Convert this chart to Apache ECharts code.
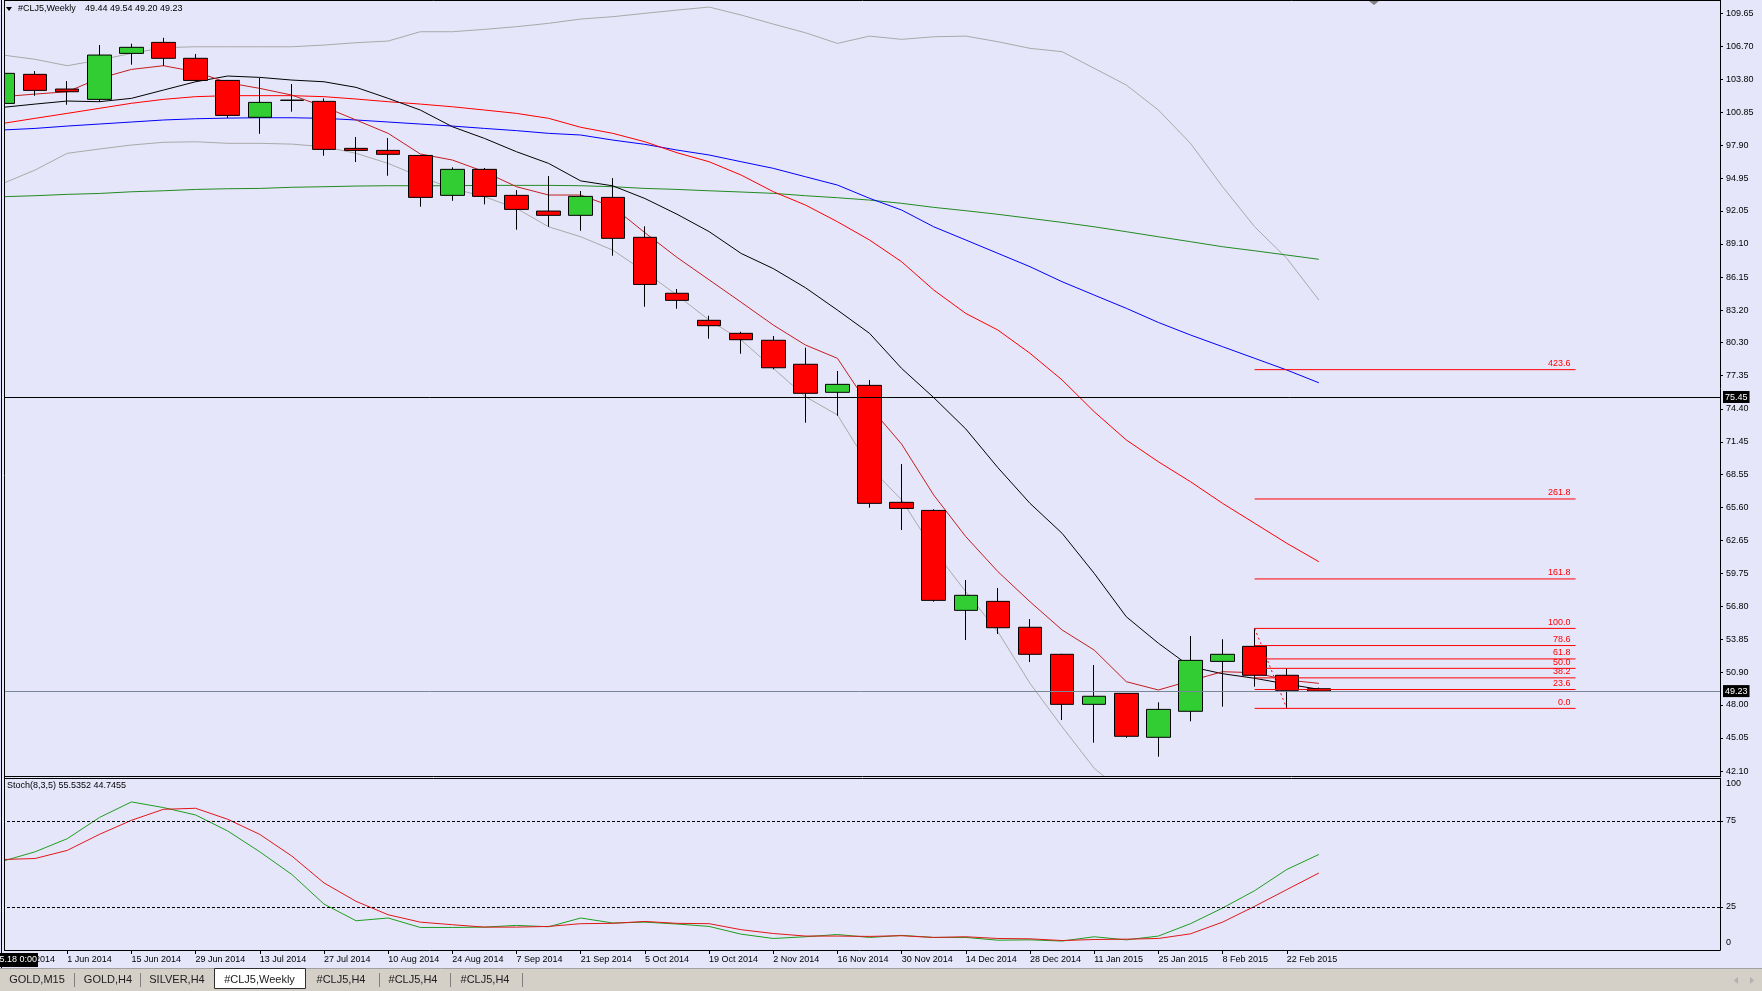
<!DOCTYPE html>
<html>
<head>
<meta charset="utf-8">
<title>#CLJ5,Weekly</title>
<script src="https://cdn.jsdelivr.net/npm/echarts@6/dist/echarts.min.js"></script>
<style>
html, body { margin: 0; padding: 0; background: #E6E6FA; }
#main { width: 1762px; height: 991px; }
</style>
</head>
<body>
<div id="main"></div>
<script>
// weekly bars, oldest first
var weeks = ['18 May 2014','25 May 2014','1 Jun 2014','8 Jun 2014','15 Jun 2014','22 Jun 2014','29 Jun 2014',
  '6 Jul 2014','13 Jul 2014','20 Jul 2014','27 Jul 2014','3 Aug 2014','10 Aug 2014','17 Aug 2014','24 Aug 2014',
  '31 Aug 2014','7 Sep 2014','14 Sep 2014','21 Sep 2014','28 Sep 2014','5 Oct 2014','12 Oct 2014','19 Oct 2014',
  '26 Oct 2014','2 Nov 2014','9 Nov 2014','16 Nov 2014','23 Nov 2014','30 Nov 2014','7 Dec 2014','14 Dec 2014',
  '21 Dec 2014','28 Dec 2014','4 Jan 2015','11 Jan 2015','18 Jan 2015','25 Jan 2015','1 Feb 2015','8 Feb 2015',
  '15 Feb 2015','22 Feb 2015','1 Mar 2015'];
var futureSlots = 12;   // empty shift area right of the last bar

// open, high, low, close
var ohlc = [
  [101.63,104.55,101.45,104.31],[104.22,104.51,102.31,102.79],[102.91,103.62,101.51,102.67],
  [101.99,106.83,101.78,105.94],[106.09,106.95,105.08,106.63],[107.07,107.48,104.96,105.65],
  [105.65,106.03,103.60,103.68],[103.68,103.72,100.32,100.56],[100.39,103.92,98.92,101.72],
  [101.92,103.36,100.89,101.90],[101.81,102.08,96.96,97.53],[97.62,98.63,96.40,97.44],
  [97.44,98.54,95.18,97.09],[96.99,97.02,92.42,93.25],[93.43,95.93,92.95,95.75],
  [95.75,95.87,92.63,93.34],[93.43,93.90,90.37,92.18],[92.03,95.15,90.63,91.65],
  [91.65,93.82,90.27,93.34],[93.25,94.97,88.05,89.60],[89.69,90.67,83.50,85.49],
  [84.70,85.08,83.32,84.07],[82.29,82.70,80.65,81.81],[81.13,81.27,79.31,80.56],
  [80.51,80.89,77.92,78.06],[78.37,79.85,73.16,75.78],[75.87,77.77,73.78,76.58],
  [76.49,76.97,65.58,65.97],[66.06,69.47,63.59,65.52],[65.34,65.44,57.20,57.32],
  [56.43,59.13,53.78,57.77],[57.23,58.42,54.32,54.88],[54.92,55.65,51.82,52.51],
  [52.51,52.55,46.65,48.05],[48.05,51.55,44.63,48.77],[49.03,49.05,45.07,45.20],
  [45.11,48.23,43.38,47.60],[47.43,54.14,46.54,51.97],[51.88,53.85,47.84,52.51],
  [53.22,54.82,49.62,50.64],[50.64,51.26,47.69,49.30],[49.44,49.54,49.20,49.23]
];

// indicator lines
var bbUpper = [105.94,105.56,104.99,105.50,106.09,106.60,106.68,106.68,106.68,106.68,106.83,107.04,107.19,108.02,
  108.02,108.23,108.47,108.77,109.15,109.36,109.66,109.95,110.22,109.51,108.70,107.93,106.98,107.63,107.34,107.57,
  107.63,107.13,106.54,106.24,104.76,103.27,101.04,98.07,94.20,90.63,87.82,84.10];
var bbLower = [94.50,95.69,97.18,97.56,97.92,98.16,98.21,98.07,98.07,98.00,97.77,97.18,96.28,95.09,94.05,93.31,
  92.27,90.63,89.74,88.55,86.62,84.54,82.31,80.53,78.01,75.48,73.85,69.24,66.27,61.81,58.09,54.52,49.92,46.05,
  42.35,40.00,38.30,37.70,37.70,37.80,37.00,37.40];
var maFast = [102.23,102.46,102.67,103.86,104.66,104.99,104.45,103.47,102.97,102.37,101.33,100.15,98.96,97.12,
  96.58,95.54,94.20,93.46,93.46,92.40,90.10,87.90,85.90,83.90,81.87,80.09,78.90,74.60,71.25,66.71,63.00,59.88,
  57.20,54.68,52.89,50.07,49.33,50.15,50.96,50.87,50.22,49.92];
var maBlack = [101.28,101.57,101.84,101.78,102.08,102.82,103.56,104.07,103.95,103.71,103.56,103.06,102.08,101.04,
  99.55,98.51,97.32,96.28,94.72,94.28,93.15,91.75,90.20,88.25,86.90,85.20,83.20,81.13,78.00,75.40,72.60,69.15,
  65.97,63.30,59.73,55.86,53.50,51.40,50.78,50.37,49.86,49.39];
var maRed = [99.85,100.30,100.74,101.19,101.64,101.99,102.23,102.32,102.32,102.32,102.23,102.02,101.78,101.57,
  101.33,101.04,100.74,100.30,99.50,98.96,98.21,97.23,96.43,95.24,93.76,92.57,91.08,89.45,87.51,84.99,82.90,81.42,
  79.35,76.97,74.14,71.62,69.68,67.90,65.97,64.19,62.41,60.77];
var maBlue = [99.26,99.40,99.61,99.79,99.97,100.15,100.26,100.32,100.35,100.35,100.30,100.15,99.97,99.79,99.61,
  99.40,99.20,98.96,98.81,98.36,97.98,97.47,97.03,96.43,95.84,95.09,94.35,93.17,92.12,90.63,89.45,88.26,87.07,
  85.73,84.54,83.36,82.10,80.98,79.94,78.90,77.86,76.72];
var maGreen = [93.31,93.40,93.52,93.60,93.75,93.84,93.96,94.02,94.05,94.15,94.20,94.26,94.29,94.29,94.29,94.32,
  94.32,94.32,94.29,94.20,94.05,93.96,93.84,93.73,93.61,93.40,93.22,93.01,92.72,92.36,92.06,91.74,91.38,91.02,
  90.63,90.19,89.74,89.30,88.85,88.49,88.11,87.73];

// Stoch(8,3,5)
var stochMain = [51.7,57.1,64.7,77.0,86.1,82.8,78.5,69.2,57.1,43.9,26.7,17.0,18.6,13.1,13.1,13.3,14.3,13.5,18.6,
  15.7,16.2,15.1,13.7,9.2,6.7,7.7,9.0,7.3,8.5,7.3,7.3,5.7,5.9,5.2,7.7,5.9,8.1,15.3,24.4,34.5,46.8,55.54];
var stochSignal = [52.6,53.2,57.9,67.2,75.4,81.8,82.4,76.0,67.2,54.6,39.0,28.3,20.5,16.2,14.7,13.3,13.3,13.7,15.3,
  15.5,16.6,15.5,15.3,11.8,9.6,8.1,8.1,7.9,8.3,7.3,7.7,6.7,6.5,5.5,6.1,6.3,6.7,9.4,16.2,25.4,35.1,44.75];

// axis tick labels
var priceTicks = [42.10,45.05,48.00,50.90,53.85,56.80,59.75,62.65,65.60,68.55,71.45,74.40,77.35,80.30,83.20,
  86.15,89.10,92.05,94.95,97.90,100.85,103.80,106.70,109.65];
var stochTicks = [0,25,75,100];
var stochLevels = [25,75];

// Fibonacci object drawn from the 15 Feb high to the 22 Feb low
var fibNames = ['0.0','23.6','38.2','50.0','61.8','78.6','100.0','161.8','261.8','423.6'];
var fibLevels = [47.69,49.37,50.41,51.26,52.10,53.29,54.82,59.23,66.36,77.89];
var fibFrom = 39, fibTo = 49;
var fibHigh = 54.82, fibLow = 47.69;

var hLine = 75.45;
var bidPrice = 49.23;

var FONT = '"Liberation Sans", Arial, sans-serif';
var cats = weeks.concat(new Array(futureSlots).fill(''));
var lastBar = weeks.length - 1;

function showEveryOther(index) { return index % 2 === 0 && index <= lastBar; }

function priceLine(values, color) {
  return {
    type: 'line', xAxisIndex: 0, yAxisIndex: 0, data: values,
    symbol: 'none', showSymbol: false, silent: true, z: 2,
    lineStyle: { color: color, width: 1 }
  };
}

var series = [
  priceLine(bbUpper, '#A9A9A9'),
  priceLine(bbLower, '#A9A9A9'),
  priceLine(maGreen, '#228B22'),
  priceLine(maBlue, '#0000FF'),
  priceLine(maRed, '#FF0000'),
  priceLine(maBlack, '#000000'),
  priceLine(maFast, '#C41E1E'),
  {
    type: 'candlestick', xAxisIndex: 0, yAxisIndex: 0, z: 4, barWidth: 24, silent: true,
    data: ohlc.map(function (d) { return [d[0], d[3], d[2], d[1]]; }),
    itemStyle: { color: '#32CD32', color0: '#FF0000', borderColor: '#000', borderColor0: '#000', borderWidth: 1 },
    markLine: {
      silent: true, symbol: ['none', 'none'], animation: false,
      data: [
        { yAxis: hLine, lineStyle: { color: '#000', width: 1, type: 'solid' },
          label: { show: true, position: 'end', distance: 3, formatter: hLine.toFixed(2), color: '#fff',
                   backgroundColor: '#000', padding: [2, 2, 1, 2], fontSize: 9, fontFamily: FONT } },
        { yAxis: bidPrice, lineStyle: { color: '#778899', width: 1, type: 'solid' },
          label: { show: true, position: 'end', distance: 3, formatter: bidPrice.toFixed(2), color: '#fff',
                   backgroundColor: '#000', padding: [2, 2, 1, 2], fontSize: 9, fontFamily: FONT } }
      ]
    }
  },
  {
    type: 'line', xAxisIndex: 0, yAxisIndex: 0, z: 5, symbol: 'none', silent: true,
    data: [[fibFrom, fibHigh], [fibFrom + 1, fibLow]],
    lineStyle: { color: '#FF0000', width: 1, type: [2, 3] }
  }
];

// fib levels: the line plus a caption above its right end
fibLevels.forEach(function (lv, k) {
  series.push({
    type: 'line', xAxisIndex: 0, yAxisIndex: 0, z: 5, silent: true,
    symbol: 'circle', symbolSize: 1, showSymbol: true,
    itemStyle: { color: 'rgba(0,0,0,0)' },
    lineStyle: { color: '#FF0000', width: 1 },
    label: { show: false },
    data: [
      { value: [fibFrom, lv] },
      { value: [fibTo, lv], label: {
          show: true, formatter: fibNames[k], position: 'top', align: 'right', distance: 1, offset: [-5, 0],
          color: '#FF0000', fontSize: 9, fontFamily: FONT } }
    ]
  });
});

series.push({
  type: 'line', xAxisIndex: 1, yAxisIndex: 1, data: stochMain, symbol: 'none', silent: true, z: 2,
  lineStyle: { color: '#1E9E1E', width: 1 },
  markLine: {
    silent: true, symbol: ['none', 'none'], animation: false, label: { show: false },
    lineStyle: { color: '#000', width: 1, type: [3, 2] },
    data: stochLevels.map(function (v) { return { yAxis: v }; })
  }
});
series.push({
  type: 'line', xAxisIndex: 1, yAxisIndex: 1, data: stochSignal, symbol: 'none', silent: true, z: 3,
  lineStyle: { color: '#E01818', width: 1 }
});

var tabs = [
  { text: 'GOLD,M15', x: 37 }, { text: 'GOLD,H4', x: 108 }, { text: 'SILVER,H4', x: 177 },
  { text: '#CLJ5,Weekly', x: 259.5 }, { text: '#CLJ5,H4', x: 341 }, { text: '#CLJ5,H4', x: 413 },
  { text: '#CLJ5,H4', x: 485 }
];
var tabSeparators = [74.5, 140.5, 379.5, 450.5, 522.5];

function hl(x1, y1, x2, y2, color) {
  return { type: 'line', z: 101, silent: true, shape: { x1: x1, y1: y1, x2: x2, y2: y2 },
           style: { stroke: color || '#000', lineWidth: 1 } };
}
function txt(x, y, s, size, color, align) {
  return { type: 'text', z: 102, silent: true, x: x, y: y,
           style: { text: s, fontSize: size, fontFamily: FONT, fill: color || '#000',
                    align: align || 'left', verticalAlign: 'middle' } };
}

var graphics = [
  { type: 'rect', z: 100, silent: true, shape: { x: 0, y: 0, width: 4, height: 968 }, style: { fill: '#E6E6FA' } },
  hl(1.5, 0, 1.5, 968), hl(4.5, 0, 4.5, 951),
  hl(4, 0.5, 1721, 0.5), hl(4, 776.5, 1721, 776.5), hl(4, 778.5, 1721, 778.5),
  { type: 'polygon', z: 102, silent: true, shape: { points: [[6, 7], [12, 7], [9, 11]] }, style: { fill: '#000' } },
  txt(18, 9, '#CLJ5,Weekly', 9), txt(85, 9, '49.44 49.54 49.20 49.23', 9),
  txt(7, 786, 'Stoch(8,3,5) 55.5352 44.7455', 9),
  { type: 'polygon', z: 102, silent: true, shape: { points: [[1369, 1], [1379, 1], [1374, 5]] }, style: { fill: '#808080' } },
  { type: 'rect', z: 103, silent: true, shape: { x: -2, y: 953, width: 40, height: 14 }, style: { fill: '#000' } },
  { type: 'text', z: 104, silent: true, x: 37, y: 960,
    style: { text: '2014.05.18 0:00', fontSize: 9, fontFamily: FONT, fill: '#fff', align: 'right', verticalAlign: 'middle' } },
  { type: 'rect', z: 100, silent: true, shape: { x: 0, y: 968, width: 1762, height: 23 }, style: { fill: '#D4D0C8' } },
  hl(0, 968.5, 1762, 968.5, '#A0A0A0'),
  { type: 'rect', z: 101, silent: true, shape: { x: 214.5, y: 968.5, width: 91, height: 20 },
    style: { fill: '#FFFFFF', stroke: '#303030', lineWidth: 1 } },
  { type: 'polygon', z: 102, silent: true, shape: { points: [[1738, 977], [1738, 984], [1734, 980.5]] }, style: { fill: '#B0B0B0' } },
  { type: 'polygon', z: 102, silent: true, shape: { points: [[1750, 977], [1750, 984], [1754, 980.5]] }, style: { fill: '#B0B0B0' } }
];
tabSeparators.forEach(function (x) { graphics.push(hl(x, 973, x, 987, '#808080')); });
tabs.forEach(function (t) { graphics.push(txt(t.x, 979.5, t.text, 11, '#202020', 'center')); });

var chart = echarts.init(document.getElementById('main'));
chart.setOption({
  animation: false,
  backgroundColor: '#E6E6FA',
  grid: [
    { left: -13, width: 1733, top: 1, height: 775, outerBoundsMode: 'none', containLabel: false },
    { left: -13, width: 1733, top: 778, height: 172, outerBoundsMode: 'none', containLabel: false }
  ],
  xAxis: [
    { type: 'category', gridIndex: 0, data: cats, boundaryGap: true, show: false },
    { type: 'category', gridIndex: 1, data: cats, boundaryGap: true,
      axisLine: { show: true, lineStyle: { color: '#000', width: 1 } },
      axisTick: { show: true, alignWithLabel: true, interval: showEveryOther, length: 4, lineStyle: { color: '#000' } },
      axisLabel: { interval: showEveryOther, align: 'left', margin: 5, color: '#000', fontSize: 9, fontFamily: FONT },
      splitLine: { show: false } }
  ],
  yAxis: [
    { type: 'value', gridIndex: 0, position: 'right', min: 41.66, max: 110.76,
      axisLine: { show: true, lineStyle: { color: '#000', width: 1 } },
      axisTick: { show: true, customValues: priceTicks, length: 3, lineStyle: { color: '#000' } },
      axisLabel: { customValues: priceTicks, formatter: function (v) { return v.toFixed(2); },
                   margin: 6, color: '#000', fontSize: 9, fontFamily: FONT },
      splitLine: { show: false } },
    { type: 'value', gridIndex: 1, position: 'right', min: 0, max: 100,
      axisLine: { show: true, lineStyle: { color: '#000', width: 1 } },
      axisTick: { show: true, customValues: stochLevels, length: 3, lineStyle: { color: '#000' } },
      axisLabel: { customValues: stochTicks, margin: 6, color: '#000', fontSize: 9, fontFamily: FONT,
        formatter: function (v) {
          if (v === 100) return '{t|100}';
          if (v === 0) return '{b|0}';
          return String(v);
        },
        rich: { t: { padding: [12, 0, 0, 0], fontSize: 9, fontFamily: FONT, color: '#000' },
                b: { padding: [0, 0, 14, 0], fontSize: 9, fontFamily: FONT, color: '#000' } } },
      splitLine: { show: false } }
  ],
  series: series,
  graphic: { elements: graphics }
});
</script>
</body>
</html>
